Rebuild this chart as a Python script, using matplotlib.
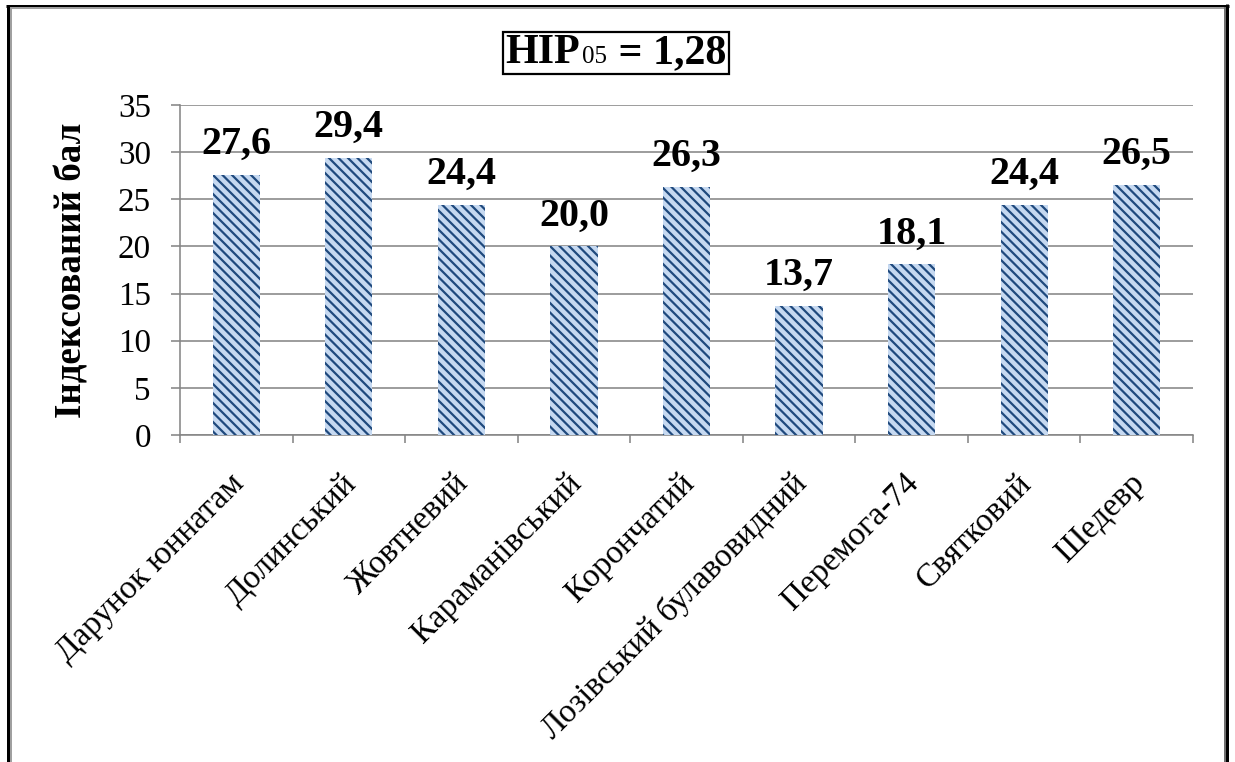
import matplotlib
matplotlib.use("Agg")
import matplotlib.pyplot as plt
import matplotlib.transforms as mtransforms
from matplotlib.lines import Line2D
from matplotlib.offsetbox import TextArea, HPacker, AnchoredOffsetbox

# Cultivars and their indexed scores
cultivars = ["Дарунок юннатам", "Долинський", "Жовтневий", "Караманівський",
             "Корончатий", "Лозівський булавовидний", "Перемога-74",
             "Святковий", "Шедевр"]
scores = [27.6, 29.4, 24.4, 20.0, 26.3, 13.7, 18.1, 24.4, 26.5]
y_ticks = [0, 5, 10, 15, 20, 25, 30, 35]
y_label = "Індексований бал"
lsd_label = "НІР"
lsd_sub = "05"
lsd_value = " = 1,28"

DPI = 114
W, H = 1235, 762


def px(v):
    """pixel size -> points"""
    return v * 72.0 / DPI


plt.rcParams["font.family"] = ["Liberation Serif", "DejaVu Serif"]
plt.rcParams["hatch.linewidth"] = 1.4

fig = plt.figure(figsize=(W / DPI, H / DPI), dpi=DPI)
fig.patch.set_facecolor("white")

AX_L, AX_R, AX_T, AX_B = 180, 1193, 105, 435
ax = fig.add_axes([AX_L / W, 1 - AX_B / H, (AX_R - AX_L) / W, (AX_B - AX_T) / H])

grid_col = "#868686"
x = list(range(len(cultivars)))
ax.bar(x, scores, width=0.42, color="#c6d9f1", edgecolor="#1f497d",
       hatch="\\\\\\\\", linewidth=0, zorder=3)

for xi, v in zip(x, scores):
    ax.annotate(f"{v:.1f}".replace(".", ","), (xi, v), xytext=(0, px(12)),
                textcoords="offset points", ha="center", va="bottom",
                fontsize=px(40), fontweight="bold", color="black", zorder=4)

ax.set_xlim(-0.5, len(cultivars) - 0.5)
ax.set_ylim(0, 35)
ax.set_yticks(y_ticks)
ax.set_yticklabels([str(t) for t in y_ticks], fontsize=px(33))
ax.yaxis.grid(True, color=grid_col, linewidth=1.0, zorder=0)
ax.set_axisbelow(True)

# category boundary ticks on x axis, names at category centres
ax.set_xticks([i - 0.5 for i in range(len(cultivars) + 1)], minor=False)
ax.set_xticklabels([])
ax.set_xticks(x, minor=True)
ax.set_xticklabels(cultivars, minor=True, rotation=45, ha="right",
                   rotation_mode="anchor", fontsize=px(33))
ax.tick_params(axis="x", which="major", length=px(8), color=grid_col, width=1)
ax.tick_params(axis="x", which="minor", length=0, pad=px(33))
ax.tick_params(axis="y", length=px(9), color=grid_col, width=1, pad=px(20))

shift = mtransforms.ScaledTranslation(-8 / DPI, 0, fig.dpi_scale_trans)
for lbl in ax.get_xticklabels(minor=True):
    lbl.set_transform(lbl.get_transform() + shift)

for s in ["top", "right"]:
    ax.spines[s].set_visible(False)
for s in ["left", "bottom"]:
    ax.spines[s].set_color(grid_col)
    ax.spines[s].set_linewidth(1.0)

ax.set_ylabel(y_label, fontsize=px(37), fontweight="bold", va="center")
ax.yaxis.set_label_coords((72 - AX_L) / (AX_R - AX_L), 0.5)

# boxed LSD annotation
parts = [
    TextArea(lsd_label, textprops=dict(fontsize=px(42), fontweight="bold")),
    TextArea(lsd_sub, textprops=dict(fontsize=px(25))),
    TextArea(lsd_value, textprops=dict(fontsize=px(42), fontweight="bold")),
]
box = HPacker(children=parts, align="baseline", pad=0, sep=1)
anchored = AnchoredOffsetbox(loc="center", child=box, pad=0.12, borderpad=0,
                             frameon=True, bbox_to_anchor=(616 / W, 1 - 53 / H),
                             bbox_transform=fig.transFigure)
anchored.patch.set_edgecolor("black")
anchored.patch.set_linewidth(1.4)
anchored.patch.set_boxstyle("square", pad=0)
fig.add_artist(anchored)


# double frame around the chart area
def fline(x0, y0, x1, y1, color, lw):
    fig.add_artist(Line2D([x0 / W, x1 / W], [1 - y0 / H, 1 - y1 / H],
                          color=color, linewidth=px(lw), solid_capstyle="butt",
                          transform=fig.transFigure))


fline(7.5, 5.5, 7.5, H, "black", 3)
fline(6, 5.5, 1228.5, 5.5, "black", 3)
fline(1227, 4, 1227, H, "black", 3)
fline(10.5, 8, 10.5, H, "#a0a0a0", 2)
fline(10, 8, 1225, 8, "#a0a0a0", 2)
fline(1224.5, 7, 1224.5, H, "#707070", 2)

fig.savefig("out.png", dpi=DPI, facecolor="white")
